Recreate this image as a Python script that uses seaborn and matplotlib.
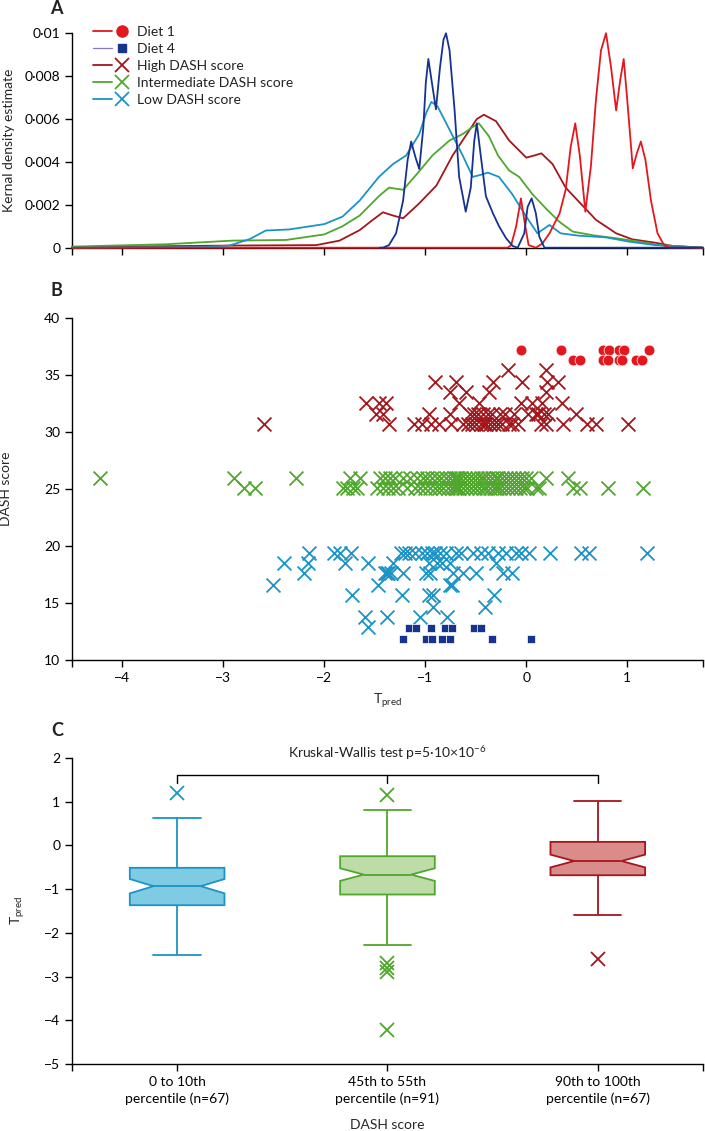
import numpy as np
import pandas as pd
import matplotlib
matplotlib.use('Agg')
import matplotlib.pyplot as plt
import seaborn as sns
from matplotlib.lines import Line2D
from matplotlib.legend_handler import HandlerTuple

# colours
C_DIET1 = '#e3171e'
C_DIET4 = '#15338f'
C_DIET4_KEY = '#8576cc'
C_HIGH = '#a5161c'
C_MID = '#4fa72c'
C_LOW = '#1b93c6'
FILL_HIGH = '#d98c89'
FILL_MID = '#bddca8'
FILL_LOW = '#80cbe4'

# --- panel A: kernel density curves (T_pred, estimate)
kde_high_x = [-4.5, -2.91, -2.08, -1.85, -1.65, -1.52, -1.42, -1.32, -1.22, -1.06, -0.89, -0.73, -0.56, -0.49, -0.42,
              -0.30, -0.17, 0.0, 0.08, 0.15, 0.26, 0.39, 0.53, 0.69, 0.89, 1.05, 1.28, 1.45, 1.75]
kde_high_y = [0.00003, 0.0001, 0.00012, 0.00033, 0.00082, 0.0013, 0.00165, 0.0015, 0.00137, 0.00207, 0.0029, 0.0043,
              0.0055, 0.006, 0.0062, 0.0059, 0.005, 0.0042, 0.0043, 0.0044, 0.0039, 0.0028, 0.0021, 0.0013, 0.00067,
              0.00039, 0.00023, 0.00008, 0.0]
kde_mid_x = [-4.5, -3.57, -2.91, -2.38, -2.0, -1.82, -1.65, -1.46, -1.36, -1.22, -1.09, -0.93, -0.76, -0.63, -0.54,
             -0.47, -0.37, -0.28, -0.17, -0.07, 0.06, 0.2, 0.33, 0.46, 0.66, 0.89, 1.12, 1.32, 1.75]
kde_mid_y = [0.00005, 0.00016, 0.00033, 0.00036, 0.00062, 0.001, 0.0015, 0.0024, 0.0028, 0.0027, 0.0034, 0.0043, 0.005,
             0.0053, 0.0056, 0.0058, 0.0052, 0.0043, 0.0036, 0.0033, 0.0025, 0.0018, 0.0012, 0.00075, 0.00058, 0.00044,
             0.00028, 0.00012, 0.0]
kde_low_x = [-4.5, -3.2, -2.94, -2.74, -2.58, -2.35, -2.0, -1.82, -1.65, -1.46, -1.32, -1.19, -1.06, -0.99, -0.94,
             -0.88, -0.76, -0.63, -0.53, -0.45, -0.38, -0.27, -0.14, 0.0, 0.11, 0.23, 0.34, 0.52, 0.79, 1.02, 1.28, 1.75]
kde_low_y = [0.0, 0.00003, 0.0001, 0.0004, 0.0008, 0.00085, 0.0011, 0.00145, 0.0022, 0.0033, 0.0039, 0.0043, 0.0053,
             0.0063, 0.0068, 0.0066, 0.0055, 0.0043, 0.0033, 0.0034, 0.0035, 0.0033, 0.0025, 0.00145, 0.00067, 0.00106,
             0.00067, 0.00056, 0.00048, 0.00028, 0.00012, 0.0]
kde_diet1_x = [-4.5, -0.185, -0.15, -0.10, -0.053, -0.01, 0.023, 0.095, 0.16, 0.23, 0.33, 0.39, 0.44, 0.485, 0.53,
               0.585, 0.64, 0.69, 0.74, 0.79, 0.84, 0.89, 0.93, 0.965, 1.0, 1.055, 1.095, 1.135, 1.18, 1.235, 1.30,
               1.365, 1.415, 1.75]
kde_diet1_y = [0.0, 0.0, 0.00012, 0.001, 0.0023, 0.001, 0.00012, 0.0, 0.0002, 0.00067, 0.0016, 0.0027, 0.0047, 0.0058,
               0.0043, 0.00168, 0.0038, 0.0069, 0.0092, 0.01, 0.0084, 0.0064, 0.0078, 0.0088, 0.0069, 0.0037, 0.0044,
               0.00495, 0.0041, 0.0022, 0.00067, 0.00012, 0.0, 0.0]
kde_diet4_x = [-1.45, -1.42, -1.36, -1.29, -1.22, -1.175, -1.14, -1.10, -1.06, -1.02, -0.995, -0.97, -0.935, -0.895,
               -0.855, -0.82, -0.795, -0.76, -0.71, -0.665, -0.60, -0.55, -0.515, -0.49, -0.45, -0.40, -0.33, -0.27,
               -0.20, -0.135, -0.085, -0.02, 0.013, 0.053, 0.095, 0.13, 0.18, 1.75]
kde_diet4_y = [0.0, 0.0, 0.00012, 0.00067, 0.0022, 0.0041, 0.00495, 0.00425, 0.00367, 0.0056, 0.0077, 0.0088, 0.0077,
               0.00645, 0.0084, 0.0097, 0.01, 0.0092, 0.0064, 0.0033, 0.00168, 0.0028, 0.005, 0.0058, 0.00425, 0.0024,
               0.0016, 0.001, 0.00044, 0.00008, 0.0, 0.00067, 0.0019, 0.0023, 0.0016, 0.0005, 0.0, 0.0]

# --- panel B: T_pred values for each DASH score row
diet1_rows = {
    37.2: [-0.05, 0.34, 0.76, 0.82, 0.92, 0.97, 1.22],
    36.3: [0.46, 0.53, 0.76, 0.81, 0.92, 0.95, 1.09, 1.15],
}
high_rows = {
    35.4: [-0.185, 0.195],
    34.4: [-0.90, -0.70, -0.33, -0.04, 0.21, 0.31],
    33.5: [-0.76, -0.60, -0.37, 0.195],
    32.5: [-1.585, -1.455, -1.39, -0.67, -0.465, -0.05, 0.06, 0.16, 0.35],
    31.6: [-1.49, -1.42, -0.96, -0.76, -0.56, -0.52, -0.48, -0.43, -0.38, -0.34, -0.26, -0.21, -0.12, 0.02, 0.095,
           0.12, 0.18, 0.22, 0.49],
    30.7: [-2.60, -1.36, -1.11, -1.03, -0.94, -0.86, -0.75, -0.63, -0.58, -0.54, -0.50, -0.45, -0.42, -0.40, -0.36,
           -0.32, -0.28, -0.24, -0.17, -0.14, -0.08, 0.15, 0.20, 0.36, 0.60, 0.69, 1.01],
}
mid_rows = {
    26.0: [-4.22, -2.90, -2.28, -1.75, -1.65, -1.45, -1.40, -1.35, -1.30, -1.22, -1.15, -1.08, -1.02, -0.98, -0.93,
           -0.88, -0.84, -0.80, -0.76, -0.72, -0.70, -0.68, -0.65, -0.61, -0.57, -0.53, -0.49, -0.45, -0.42, -0.38,
           -0.34, -0.30, -0.28, -0.24, -0.20, -0.16, -0.12, -0.08, -0.04, 0.0, 0.05, 0.20, 0.41],
    25.1: [-2.80, -2.69, -1.82, -1.78, -1.72, -1.68, -1.48, -1.42, -1.37, -1.32, -1.27, -1.18, -1.10, -1.05, -1.00,
           -0.95, -0.90, -0.86, -0.82, -0.78, -0.74, -0.71, -0.69, -0.67, -0.63, -0.59, -0.55, -0.51, -0.47, -0.43,
           -0.40, -0.36, -0.32, -0.29, -0.26, -0.22, -0.18, -0.14, -0.10, -0.06, -0.02, 0.01, 0.10, 0.13, 0.46, 0.53,
           0.81, 1.16],
}
low_rows = {
    19.4: [-2.15, -1.90, -1.85, -1.74, -1.24, -1.20, -1.16, -1.10, -1.03, -0.98, -0.935, -0.90, -0.85, -0.80, -0.70,
           -0.65, -0.53, -0.45, -0.38, -0.28, -0.20, -0.10, -0.05, 0.03, 0.23, 0.54, 0.62, 1.20],
    18.5: [-2.40, -2.16, -1.80, -1.57, -1.32, -0.96, -0.88, -0.83, -0.76, -0.30],
    17.6: [-2.20, -1.40, -1.38, -1.365, -1.34, -1.22, -0.99, -0.95, -0.73, -0.63, -0.50, -0.23, -0.14],
    16.6: [-2.51, -1.47, -0.76, -0.74],
    15.7: [-1.73, -1.23, -0.96, -0.92, -0.32],
    14.7: [-0.92, -0.41],
    13.8: [-1.60, -1.375, -1.05, -0.79],
    12.9: [-1.57],
}
diet4_rows = {
    12.8: [-1.16, -1.09, -0.94, -0.81, -0.74, -0.52, -0.45],
    11.9: [-1.22, -0.99, -0.93, -0.83, -0.76, -0.34, 0.05],
}

# --- panel C: groups
group_labels = ['0 to 10th\npercentile (n=67)', '45th to 55th\npercentile (n=91)', '90th to 100th\npercentile (n=67)']
legend_labels = ['Diet 1', 'Diet 4', 'High DASH score', 'Intermediate DASH score', 'Low DASH score']


def rows_to_frame(rows):
    recs = [(t, d) for d, ts in rows.items() for t in ts]
    return pd.DataFrame(recs, columns=['T_PRED', 'DASH'])


sns.set_theme(style='ticks', rc={
    'axes.linewidth': 1.0, 'xtick.major.size': 5, 'ytick.major.size': 5,
    'xtick.major.width': 1.0, 'ytick.major.width': 1.0,
    'xtick.labelsize': 10, 'ytick.labelsize': 10, 'axes.labelsize': 10,
    'axes.edgecolor': 'black', 'xtick.color': 'black', 'ytick.color': 'black',
})
plt.rcParams['font.family'] = ['Lato', 'DejaVu Sans']
plt.rcParams['mathtext.fontset'] = 'custom'
plt.rcParams['mathtext.rm'] = 'Lato'
plt.rcParams['mathtext.it'] = 'Lato:italic'
plt.rcParams['text.color'] = '#222222'

fig = plt.figure(figsize=(7.05, 11.31), dpi=100)
ax_a = fig.add_axes([0.1021, 0.7810, 0.8950, 0.1896])
ax_b = fig.add_axes([0.1021, 0.4162, 0.8950, 0.3029])
ax_c = fig.add_axes([0.1021, 0.0592, 0.8950, 0.2708])

xticks = [-4.5, -4, -3, -2, -1, 0, 1, 1.75]
xticklabels = ['', '\u22124', '\u22123', '\u22122', '\u22121', '0', '1', '']

# ---------------- A
curves = [
    (kde_high_x, kde_high_y, C_HIGH),
    (kde_mid_x, kde_mid_y, C_MID),
    (kde_low_x, kde_low_y, C_LOW),
    (kde_diet1_x, kde_diet1_y, C_DIET1),
    (kde_diet4_x, kde_diet4_y, C_DIET4),
]
for xs, ys, col in curves:
    sns.lineplot(x=xs, y=ys, color=col, lw=1.3, estimator=None, ax=ax_a, clip_on=False, zorder=3)
ax_a.set_xlim(-4.5, 1.75)
ax_a.set_ylim(0, 0.01)
ax_a.set_xticks(xticks)
ax_a.set_xticklabels([''] * len(xticks))
ax_a.set_yticks([0, 0.002, 0.004, 0.006, 0.008, 0.01])
ax_a.set_yticklabels(['0', '0\u00b7002', '0\u00b7004', '0\u00b7006', '0\u00b7008', '0\u00b701'])
ax_a.set_ylabel('Kernal density estimate')
ax_a.yaxis.set_label_coords(-0.090, 0.5)

handles = [
    (Line2D([], [], color=C_DIET1, lw=1.3), Line2D([], [], ls='none', marker='o', ms=8, color=C_DIET1)),
    (Line2D([], [], color=C_DIET4_KEY, lw=0.9), Line2D([], [], ls='none', marker='s', ms=6, color=C_DIET4)),
    (Line2D([], [], color=C_HIGH, lw=1.3), Line2D([], [], ls='none', marker='x', ms=10, mew=1.3, color=C_HIGH)),
    (Line2D([], [], color=C_MID, lw=1.3), Line2D([], [], ls='none', marker='x', ms=10, mew=1.3, color=C_MID)),
    (Line2D([], [], color=C_LOW, lw=1.3), Line2D([], [], ls='none', marker='x', ms=10, mew=1.3, color=C_LOW)),
]
ax_a.legend(handles, legend_labels, handler_map={tuple: HandlerTuple(ndivide=None, pad=0)},
            loc='upper left', bbox_to_anchor=(0.033, 1.035), frameon=False, borderpad=0, borderaxespad=0,
            handlelength=2.8, handletextpad=0.35, labelspacing=0.36, fontsize=10)

# ---------------- B
scatter_groups = [
    (high_rows, 'x', C_HIGH, 100),
    (mid_rows, 'x', C_MID, 100),
    (low_rows, 'x', C_LOW, 100),
]
for rows, mk, col, size in scatter_groups:
    df = rows_to_frame(rows)
    sns.scatterplot(data=df, x='T_PRED', y='DASH', marker=mk, color=col, s=size, linewidth=1.3, ax=ax_b,
                    legend=False, zorder=3)
d1 = rows_to_frame(diet1_rows)
sns.scatterplot(data=d1, x='T_PRED', y='DASH', marker='o', color=C_DIET1, s=60, edgecolor='white', linewidth=0.5,
                ax=ax_b, legend=False, zorder=4)
d4 = rows_to_frame(diet4_rows)
sns.scatterplot(data=d4, x='T_PRED', y='DASH', marker='s', color=C_DIET4, s=38, edgecolor='white', linewidth=0.5,
                ax=ax_b, legend=False, zorder=4)
ax_b.set_xlim(-4.5, 1.75)
ax_b.set_ylim(10, 40)
ax_b.set_xticks(xticks)
ax_b.set_xticklabels(xticklabels)
ax_b.set_yticks([10, 15, 20, 25, 30, 35, 40])
ax_b.set_ylabel('DASH score')
ax_b.yaxis.set_label_coords(-0.095, 0.5)
ax_b.set_xlabel(r'$\mathrm{T}_{\mathrm{pred}}$')
ax_b.xaxis.set_label_coords(0.5, -0.092)

# ---------------- C
box_groups = [
    (low_rows, FILL_LOW, C_LOW, group_labels[0]),
    (mid_rows, FILL_MID, C_MID, group_labels[1]),
    (high_rows, FILL_HIGH, C_HIGH, group_labels[2]),
]
for rows, fill, edge, lab in box_groups:
    vals = rows_to_frame(rows)['T_PRED'].to_numpy()
    sns.boxplot(x=[lab] * len(vals), y=vals, order=group_labels, color=fill, linecolor=edge, saturation=1,
                width=0.45, linewidth=1.3, notch=True, whis=1.5,
                flierprops=dict(marker='x', markersize=10, markeredgecolor=edge, markeredgewidth=1.3),
                ax=ax_c)
ax_c.set_xlim(-0.5, 2.5)
ax_c.set_ylim(-5, 2)
ax_c.set_xticks([-0.5, 0, 1, 2, 2.5])
ax_c.set_xticklabels([''] + group_labels + [''], linespacing=1.45)
ax_c.set_yticks([-5, -4, -3, -2, -1, 0, 1, 2])
ax_c.set_yticklabels(['\u22125', '\u22124', '\u22123', '\u22122', '\u22121', '0', '1', '2'])
ax_c.set_ylabel(r'$\mathrm{T}_{\mathrm{pred}}$')
ax_c.yaxis.set_label_coords(-0.072, 0.5)
ax_c.set_xlabel('DASH score')
ax_c.xaxis.set_label_coords(0.5, -0.178)

# significance bracket
ax_c.plot([0, 0, 2, 2], [1.42, 1.6, 1.6, 1.42], color='black', lw=1.0)
ax_c.plot([1, 1], [1.6, 1.42], color='black', lw=1.0)
ax_c.text(1, 2.11, 'Kruskal-Wallis test p=5\u00b710\u00d710$^{-6}$', ha='center', va='center', fontsize=10,
          clip_on=False)

for ax in (ax_a, ax_b, ax_c):
    sns.despine(ax=ax)

fig.text(56 / 705, 1 - 8 / 1131, 'A', fontsize=13, fontweight='bold', ha='center', va='center')
fig.text(56 / 705, 1 - 291 / 1131, 'B', fontsize=13, fontweight='bold', ha='center', va='center')
fig.text(57 / 705, 1 - 731 / 1131, 'C', fontsize=13, fontweight='bold', ha='center', va='center')

fig.savefig('out.png', dpi=100)
